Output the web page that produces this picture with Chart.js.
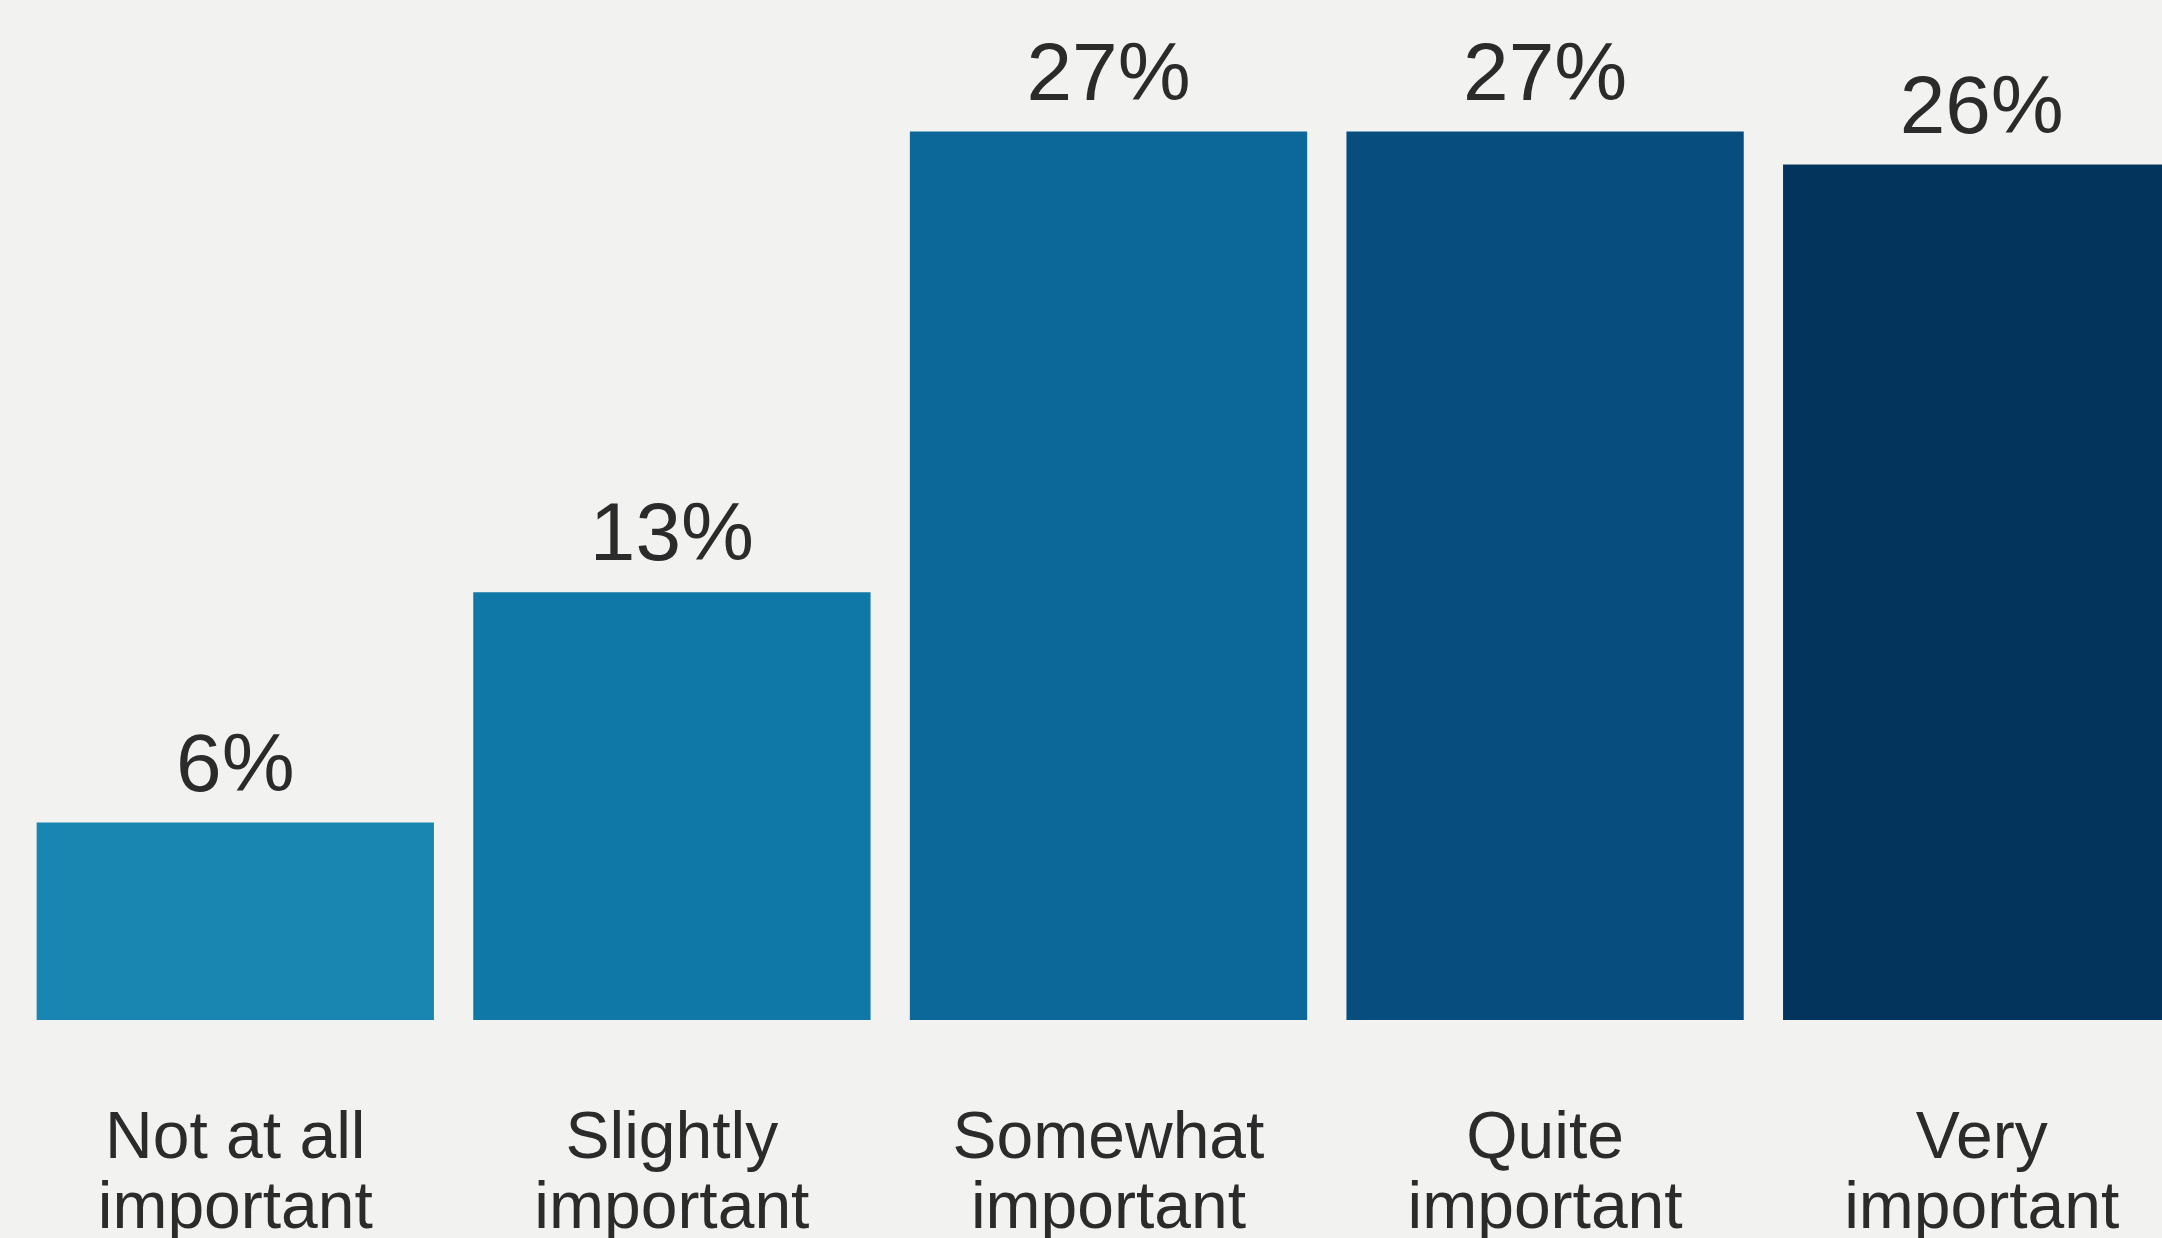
<!DOCTYPE html>
<html>
<head>
<meta charset="utf-8">
<script src="https://cdn.jsdelivr.net/npm/chart.js@4.4.0/dist/chart.umd.min.js"></script>
<style>
  html, body { margin: 0; padding: 0; background: #f2f2f0; overflow: hidden; }
  #wrap { position: relative; width: 2200px; height: 1238px; }
</style>
</head>
<body>
<div id="wrap"><canvas id="barChart"></canvas></div>
<script>
var categories = [
    ["Not at all", "important"],
    ["Slightly", "important"],
    ["Somewhat", "important"],
    ["Quite", "important"],
    ["Very", "important"]
];
var shares = [6, 13, 27, 27, 26];
var barColors = ['#1886b1', '#0f78a6', '#0b6899', '#074e7f', '#03345c'];

// value labels above bars
var valueLabels = {
    id: 'valueLabels',
    afterDatasetsDraw: function(chart) {
        var ctx = chart.ctx;
        var meta = chart.getDatasetMeta(0);
        ctx.save();
        ctx.font = '82px "Liberation Sans", Arial, sans-serif';
        ctx.fillStyle = '#2b2b2b';
        ctx.textAlign = 'center';
        ctx.textBaseline = 'alphabetic';
        meta.data.forEach(function(bar, i) {
            ctx.fillText(shares[i] + '%', bar.x, bar.y - 32);
        });
        ctx.restore();
    }
};

var ctxB = document.getElementById("barChart").getContext('2d');
var myBarChart = new Chart(ctxB, {
    type: 'bar',
    data: {
        labels: categories,
        datasets: [{
            data: shares,
            backgroundColor: barColors,
            borderWidth: 0,
            barPercentage: 0.91,
            categoryPercentage: 1
        }]
    },
    options: {
        responsive: true,
        maintainAspectRatio: false,
        animation: false,
        layout: { padding: { left: 17, right: 0, top: 0, bottom: 0 } },
        plugins: {
            legend: { display: false },
            tooltip: { enabled: false }
        },
        scales: {
            x: {
                grid: { display: false },
                border: { display: false },
                afterFit: function(scale) { scale.height = 218; },
                ticks: {
                    color: '#2b2b2b',
                    padding: 77,
                    maxRotation: 0,
                    autoSkip: false,
                    font: { family: '"Liberation Sans", Arial, sans-serif', size: 66, lineHeight: 1.06 }
                }
            },
            y: {
                display: false,
                min: 0,
                max: 31
            }
        }
    },
    plugins: [valueLabels]
});
</script>
</body>
</html>
